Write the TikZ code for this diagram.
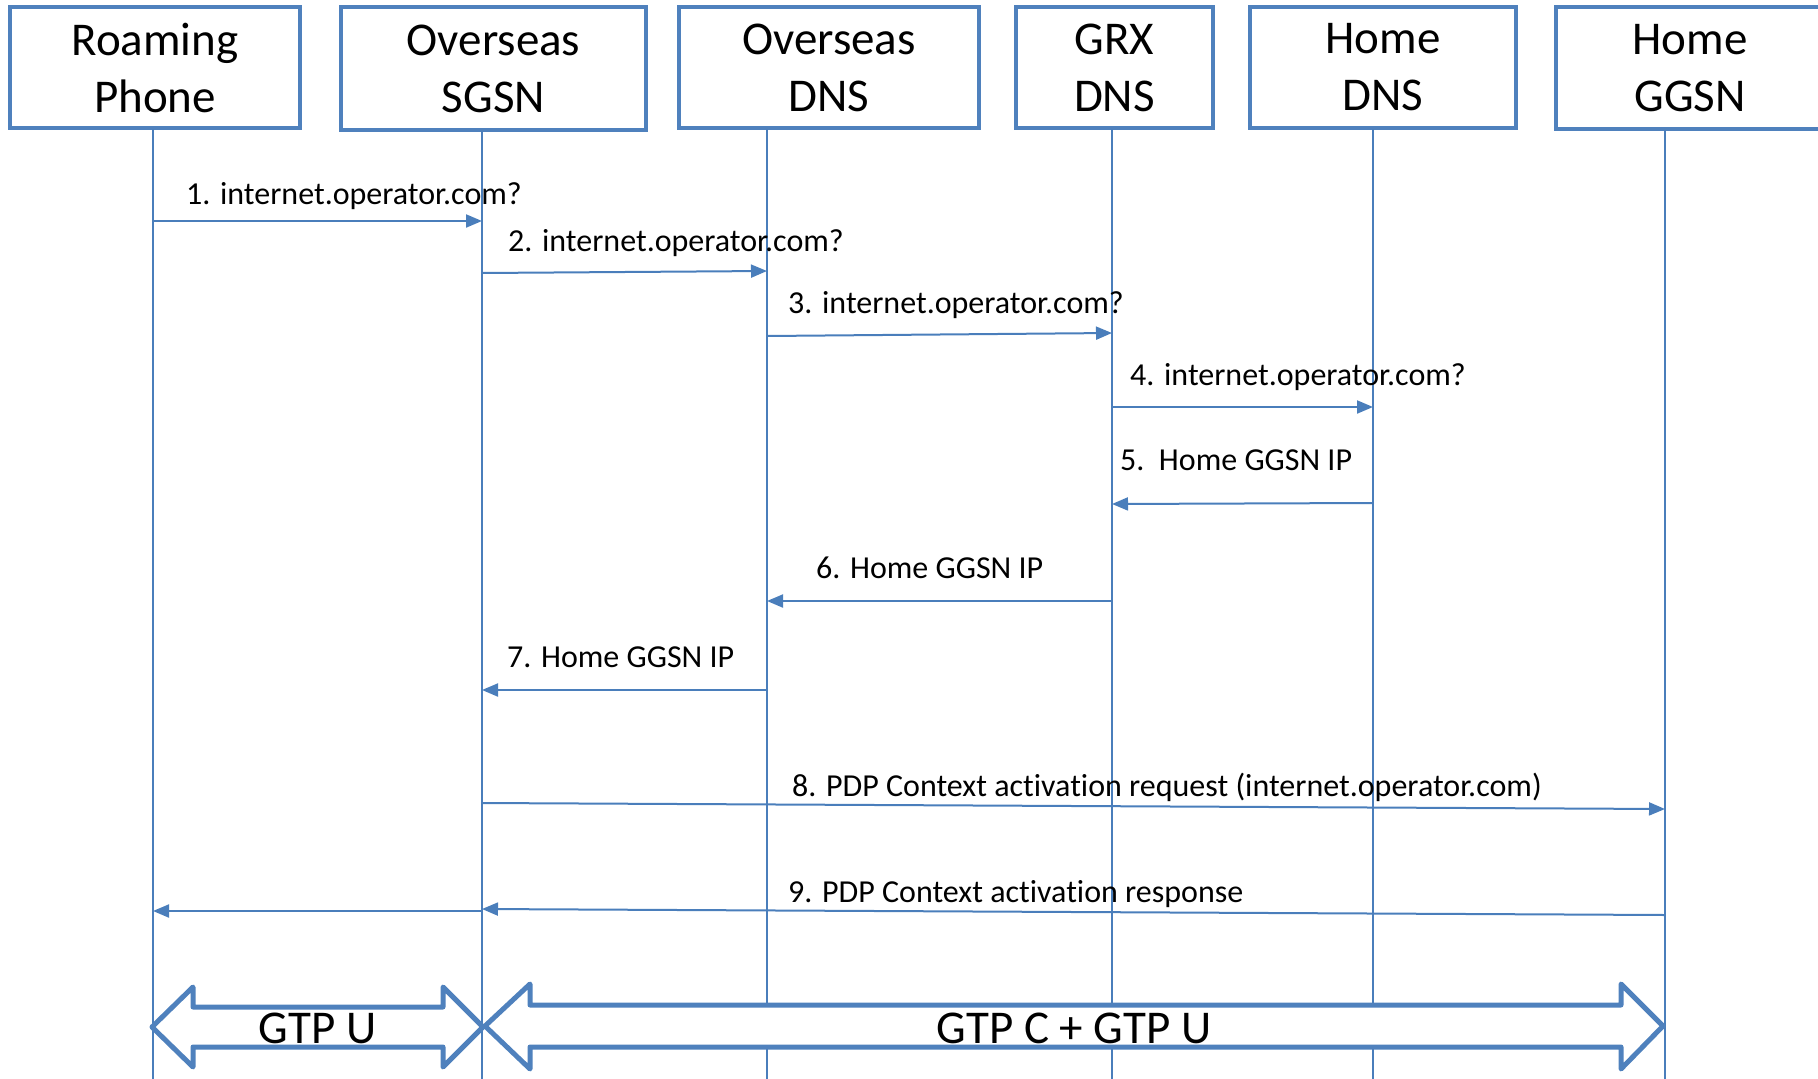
\documentclass[tikz,border=0pt]{standalone}
\usepackage{fontspec}
\setmainfont[Ligatures=NoCommon]{Carlito}
\usetikzlibrary{arrows.meta}
\definecolor{boxblue}{HTML}{4F81BD}
\definecolor{lineblue}{HTML}{4A7EBB}

\begin{document}
\begin{tikzpicture}[
            x=1pt, y=-1pt,
            entity/.style={draw=boxblue, line width=4.5pt, align=center, inner sep=0pt, font=\fontsize{47}{57}\selectfont},
            lifeline/.style={draw=lineblue, line width=2pt},
            msg/.style={draw=lineblue, line width=2pt, -{Triangle[length=16pt,width=13pt]}},
            msglabel/.style={anchor=base west, inner sep=0pt, font=\fontsize{32}{36}\selectfont},
            bigarrow/.style={draw=boxblue, fill=white, line width=5pt, line join=round},
            biglabel/.style={anchor=base, inner sep=0pt, font=\fontsize{47}{56}\selectfont}
        ]
        \useasboundingbox (0,0) rectangle (1818,1079);

        % Entities
        \node[entity, minimum width=290pt, minimum height=121pt] (phone) at (155,67.5) {Roaming\\Phone};
        \node[entity, minimum width=305pt, minimum height=123pt] (sgsn) at (493.5,68.5) {Overseas\\SGSN};
        \node[entity, minimum width=300pt, minimum height=121pt] (odns) at (829,67.5) {Overseas\\DNS};
        \node[entity, minimum width=197pt, minimum height=121pt] (gdns) at (1114.5,67.5) {GRX\\DNS};
        \node[entity, minimum width=266pt, minimum height=121pt] (hdns) at (1383,67.5) {Home\\DNS};
        \node[entity, minimum width=268pt, minimum height=122pt] (ggsn) at (1690,68) {Home\\GGSN};

        % Lifelines
        \coordinate (phoneL) at (153,129);
        \coordinate (sgsnL) at (482,131);
        \coordinate (odnsL) at (767,129);
        \coordinate (gdnsL) at (1112,129);
        \coordinate (hdnsL) at (1373,129);
        \coordinate (ggsnL) at (1665,130);
        \foreach \l in {phoneL, sgsnL, odnsL, gdnsL, hdnsL, ggsnL}
            \draw[lifeline] (\l) -- (\l |- 0,1079);

        % Messages
        \node[msglabel] (m1) at (186,204) {1. internet.operator.com?};
        \draw[msg] (phoneL |- 0,221) -- (sgsnL |- 0,221);
        \node[msglabel] (m2) at (508,251) {2. internet.operator.com?};
        \draw[msg] (sgsnL |- 0,273) -- (odnsL |- 0,271);
        \node[msglabel] (m3) at (788,313) {3. internet.operator.com?};
        \draw[msg] (odnsL |- 0,336) -- (gdnsL |- 0,333);
        \node[msglabel] (m4) at (1130,385) {4. internet.operator.com?};
        \draw[msg] (gdnsL |- 0,407) -- (hdnsL |- 0,407);
        \node[msglabel] (m5) at (1120,470) {5.\ \ Home GGSN IP};
        \draw[msg] (hdnsL |- 0,503) -- (gdnsL |- 0,504);
        \node[msglabel] (m6) at (816,578) {6. Home GGSN IP};
        \draw[msg] (gdnsL |- 0,601) -- (odnsL |- 0,601);
        \node[msglabel] (m7) at (507,667) {7. Home GGSN IP};
        \draw[msg] (odnsL |- 0,690) -- (sgsnL |- 0,690);
        \node[msglabel] (m8) at (792,796) {8. PDP Context activation request (internet.operator.com)};
        \draw[msg] (sgsnL |- 0,803) -- (ggsnL |- 0,809);
        \node[msglabel] (m9) at (788,902) {9. PDP Context activation response};
        \draw[msg] (ggsnL |- 0,915) -- (sgsnL |- 0,909);
        \draw[msg] (sgsnL |- 0,911) -- (phoneL |- 0,911);

        % Tunnels
        \draw[bigarrow] (152,1027) -- (193,987) -- (193,1007) -- (443,1007) -- (443,987) -- (483,1027)
            -- (443,1067) -- (443,1047) -- (193,1047) -- (193,1067) -- cycle;
        \node[biglabel] (gtpu) at (317.5,1043) {GTP U};
        \draw[bigarrow] (485,1026) -- (530,984) -- (530,1005) -- (1621,1005) -- (1621,984) -- (1663,1026)
            -- (1621,1069) -- (1621,1047) -- (530,1047) -- (530,1069) -- cycle;
        \node[biglabel] (gtpcu) at (1074,1043) {GTP C + GTP U};
\end{tikzpicture}
\end{document}
